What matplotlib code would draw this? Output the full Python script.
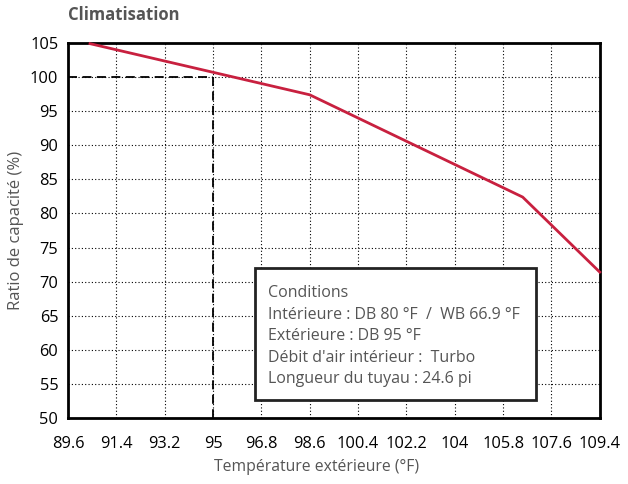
import matplotlib.pyplot as plt
from matplotlib.patches import Rectangle

plt.rcParams["font.family"] = ["Open Sans", "DejaVu Sans"]

# data
temps = [90.42, 98.6, 106.53, 109.4]
ratios = [104.9, 97.4, 82.4, 71.4]
x_ticks = [89.6, 91.4, 93.2, 95, 96.8, 98.6, 100.4, 102.2, 104, 105.8, 107.6, 109.4]
x_labels = ["89.6", "91.4", "93.2", "95", "96.8", "98.6", "100.4", "102.2", "104", "105.8", "107.6", "109.4"]
y_ticks = [50, 55, 60, 65, 70, 75, 80, 85, 90, 95, 100, 105]
rated_temp = 95
rated_ratio = 100
conditions = [
    "Conditions",
    "Intérieure : DB 80 °F  /  WB 66.9 °F",
    "Extérieure : DB 95 °F",
    "Débit d'air intérieur :  Turbo",
    "Longueur du tuyau : 24.6 pi",
]

gray = "#555555"

fig = plt.figure(figsize=(6.28, 4.84), dpi=100)
ax = fig.add_axes([0.1083, 0.1364, 0.8467, 0.7748])

ax.set_xlim(x_ticks[0], x_ticks[-1])
ax.set_ylim(y_ticks[0], y_ticks[-1])
ax.set_xticks(x_ticks)
ax.set_xticklabels(x_labels)
ax.set_yticks(y_ticks)
ax.tick_params(length=0, labelsize=11.8)
ax.tick_params(axis="x", pad=13)
ax.tick_params(axis="y", pad=7)

ax.grid(True, color="black", linestyle=(0, (1, 2)), linewidth=0.8)
for s in ax.spines.values():
    s.set_linewidth(2)

# reference point dashed lines
ax.plot([x_ticks[0], rated_temp], [rated_ratio, rated_ratio], color="black",
        linestyle=(0, (5, 3)), linewidth=1.3, zorder=3)
ax.plot([rated_temp, rated_temp], [rated_ratio, y_ticks[0]], color="black",
        linestyle=(0, (5, 3)), linewidth=1.3, zorder=3)

ax.plot(temps, ratios, color="#c8203f", linewidth=2, zorder=4, clip_on=False)

ax.set_xlabel("Température extérieure (°F)", color=gray, fontsize=11.3)
ax.set_ylabel("Ratio de capacité (%)", color=gray, fontsize=12)
ax.xaxis.set_label_coords(0.468, -0.131)
ax.yaxis.set_label_coords(-0.098, 0.5)
ax.xaxis.label.set_va("center")
ax.yaxis.label.set_va("center")

# conditions box
box = Rectangle((0.351, 0.048), 0.53, 0.352, transform=ax.transAxes,
                facecolor="white", edgecolor="#222222", linewidth=2, zorder=5)
ax.add_patch(box)
for i, line in enumerate(conditions):
    ax.text(0.376, 0.333 - i * 0.0573, line, transform=ax.transAxes,
            color=gray, fontsize=11.5, va="center", ha="left", zorder=6)

fig.text(0.108, 0.969, "Climatisation", color=gray, fontsize=12,
         fontweight="bold", va="center", ha="left")

fig.savefig("out.png", dpi=100)
